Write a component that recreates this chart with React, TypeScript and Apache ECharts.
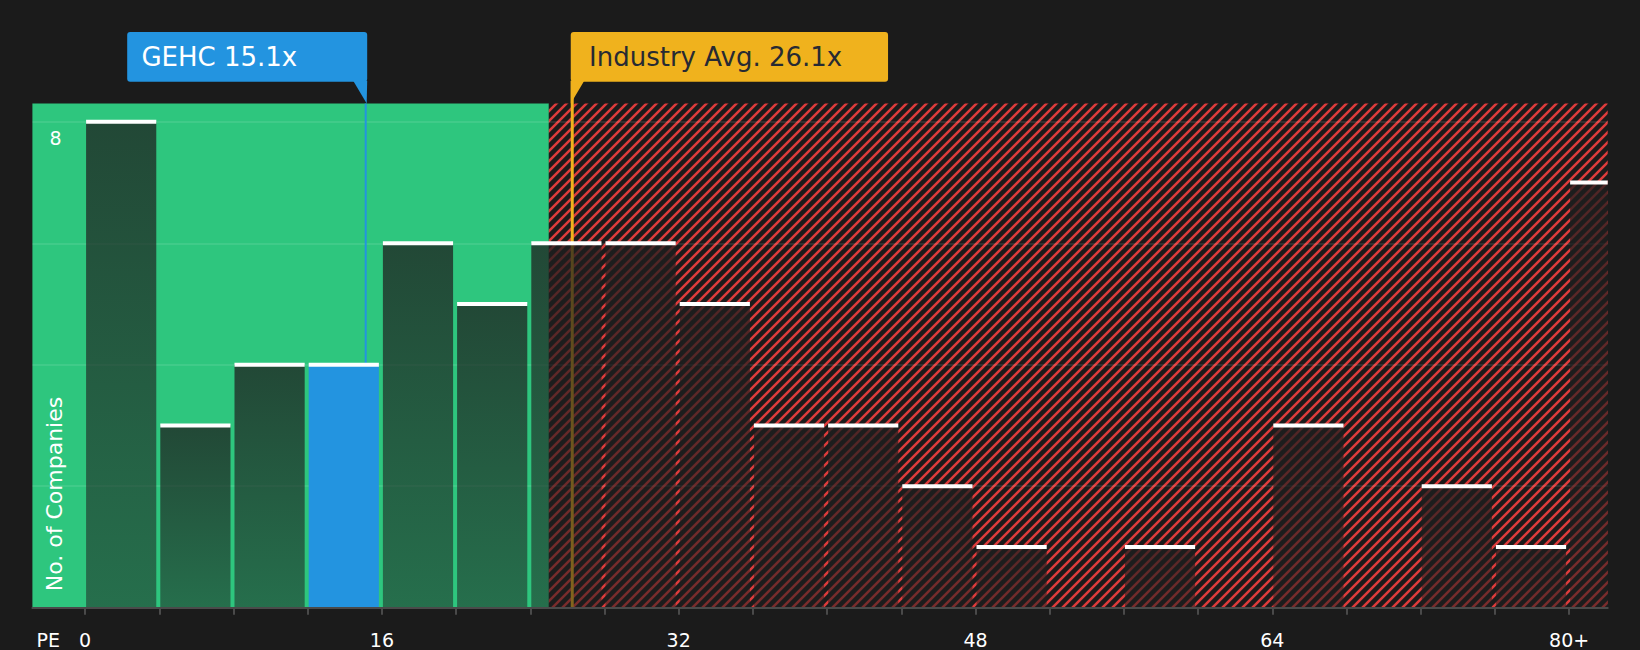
import React, { useEffect, useRef } from "react";
import * as echarts from "echarts";

// ---- data ----
const binStarts = [0, 4, 8, 12, 16, 20, 24, 28, 32, 36, 40, 44, 48, 52, 56, 60, 64, 68, 72, 76, 80];
const counts = [8, 3, 4, 4, 6, 5, 6, 6, 5, 3, 3, 2, 1, 0, 1, 0, 3, 0, 2, 1, 7];
const BIN_WIDTH = 4;
const companyPE = 15.1;
const industryPE = 26.1;
const companyLabel = "GEHC 15.1x";
const industryLabel = "Industry Avg. 26.1x";
const fairLimit = 25;
const xTickValues = [0, 4, 8, 12, 16, 20, 24, 28, 32, 36, 40, 44, 48, 52, 56, 60, 64, 68, 72, 76, 80];
const xLabelValues = [0, 16, 32, 48, 64, 80];
const yLabelValues = [8];
const X_MIN = -2.84;
const X_MAX = 82.08;
const Y_MAX = 8.3;

const FONT = "DejaVu Sans";
const GREEN = "#2ec67e";
const BLUE = "#2394e0";
const YELLOW = "#f0b21d";
const BG = "#1b1b1b";

function makeHatch(): string {
  const s = 10;
  const c = document.createElement("canvas");
  c.width = s;
  c.height = s;
  const ctx = c.getContext("2d")!;
  ctx.fillStyle = BG;
  ctx.fillRect(0, 0, s, s);
  ctx.strokeStyle = "#de3c3c";
  ctx.lineWidth = 2.5;
  ctx.beginPath();
  ctx.moveTo(-1, s + 1);
  ctx.lineTo(s + 1, -1);
  ctx.moveTo(-1, 1);
  ctx.lineTo(1, -1);
  ctx.moveTo(s - 1, s + 1);
  ctx.lineTo(s + 1, s - 1);
  ctx.stroke();
  return c.toDataURL();
}

export default function App() {
  const ref = useRef<HTMLDivElement>(null);

  useEffect(() => {
    if (!ref.current) return;
    const chart = echarts.init(ref.current, null, { renderer: "svg" });
    const hatch = { image: makeHatch(), repeat: "repeat", imageWidth: 10, imageHeight: 10 };
    const barGradient = new echarts.graphic.LinearGradient(0, 0, 0, 1, [
      { offset: 0, color: "rgba(30,30,30,0.75)" },
      { offset: 1, color: "rgba(30,30,30,0.52)" },
    ]);

    const barData = binStarts.map((s, i) => [s, counts[i]]);
    const markerData = [
      [companyPE, 0],
      [industryPE, 1],
    ];

    const option: any = {
      animation: false,
      backgroundColor: BG,
      textStyle: { fontFamily: FONT },
      grid: {
        left: 32.4,
        right: 32.3,
        top: 103.6,
        bottom: 42.3,
        containLabel: false,
        outerBoundsMode: "none",
      },
      xAxis: {
        type: "value",
        min: X_MIN,
        max: X_MAX,
        z: 3,
        axisLine: { show: true, lineStyle: { color: "#4a4a4a", width: 2 } },
        axisTick: {
          show: true,
          customValues: xTickValues,
          length: 7,
          lineStyle: { color: "#4a4a4a", width: 2 },
        },
        axisLabel: {
          show: true,
          customValues: xLabelValues,
          formatter: (v: number) => (v === 80 ? "80+" : String(v)),
          color: "#ffffff",
          fontSize: 19,
          fontFamily: FONT,
          margin: 23,
        },
        splitLine: { show: false },
      },
      yAxis: {
        type: "value",
        min: 0,
        max: Y_MAX,
        interval: 2,
        z: 1,
        axisLine: { show: false },
        axisTick: { show: false },
        axisLabel: {
          inside: true,
          margin: 17,
          color: "#ffffff",
          fontSize: 19,
          fontFamily: FONT,
          verticalAlign: "top",
          padding: [7, 0, 0, 0],
          formatter: (v: number) => (yLabelValues.indexOf(v) >= 0 ? String(v) : ""),
        },
        splitLine: {
          show: true,
          showMinLine: false,
          showMaxLine: false,
          lineStyle: { color: "rgba(255,255,255,0.12)", width: 1.5 },
        },
      },
      graphic: [
        {
          type: "text",
          z: 10,
          x: 36.5,
          y: 640,
          style: {
            text: "PE",
            fill: "#ffffff",
            font: `19px '${FONT}'`,
            lineHeight: 18,
            align: "left",
            verticalAlign: "middle",
          },
        },
        {
          type: "text",
          z: 10,
          x: 54.7,
          y: 494,
          rotation: Math.PI / 2,
          style: {
            text: "No. of Companies",
            fill: "#ffffff",
            font: `22px '${FONT}'`,
            align: "center",
            verticalAlign: "middle",
          },
        },
      ],
      series: [
        {
          name: "zones",
          type: "custom",
          z: 0,
          silent: true,
          data: [[fairLimit, 0]],
          encode: { x: 0, y: 1 },
          renderItem: (params: any, api: any) => {
            const cs = params.coordSys;
            const bx = api.coord([api.value(0), 0])[0];
            return {
              type: "group",
              children: [
                {
                  type: "rect",
                  shape: { x: cs.x, y: cs.y, width: bx - cs.x, height: cs.height },
                  style: { fill: GREEN },
                },
                {
                  type: "rect",
                  shape: { x: bx, y: cs.y, width: cs.x + cs.width - bx, height: cs.height },
                  style: { fill: hatch },
                },
              ],
            };
          },
        },
        {
          name: "markers",
          type: "custom",
          z: 1,
          silent: true,
          data: markerData,
          encode: { x: 0, y: 1 },
          renderItem: (params: any, api: any) => {
            const cs = params.coordSys;
            const top = cs.y;
            const bottom = cs.y + cs.height;
            const boxTop = 32;
            const boxH = 49.7;
            const boxBottom = boxTop + boxH;
            if (api.value(1) === 0) {
              const x = api.coord([api.value(0), 0])[0] + 0.5;
              const right = x + 1.5;
              const w = 240;
              return {
                type: "group",
                children: [
                  {
                    type: "rect",
                    shape: { x: x - 1, y: top, width: 2, height: bottom - top },
                    style: { fill: BLUE },
                  },
                  {
                    type: "polygon",
                    shape: { points: [[right - 14, boxBottom - 1], [right, boxBottom - 1], [right - 0.5, top]] },
                    style: { fill: BLUE },
                  },
                  {
                    type: "rect",
                    shape: { x: right - w, y: boxTop, width: w, height: boxH, r: 3 },
                    style: { fill: BLUE },
                  },
                  {
                    type: "text",
                    x: right - w + 14.2,
                    y: boxTop + boxH / 2,
                    style: {
                      text: companyLabel,
                      fill: "#ffffff",
                      font: `26px '${FONT}'`,
                      align: "left",
                      verticalAlign: "middle",
                    },
                  },
                ],
              };
            }
            const x = api.coord([api.value(0), 0])[0] + 3;
            const left = x - 1.5;
            const w = 317.3;
            return {
              type: "group",
              children: [
                {
                  type: "rect",
                  shape: { x: x - 1.5, y: boxBottom - 1, width: 3, height: bottom - boxBottom + 1 },
                  style: { fill: YELLOW },
                },
                {
                  type: "polygon",
                  shape: { points: [[left, boxBottom - 1], [left + 13.5, boxBottom - 1], [left, top]] },
                  style: { fill: YELLOW },
                },
                {
                  type: "rect",
                  shape: { x: left, y: boxTop, width: w, height: boxH, r: 3 },
                  style: { fill: YELLOW },
                },
                {
                  type: "text",
                  x: left + 18.3,
                  y: boxTop + boxH / 2,
                  style: {
                    text: industryLabel,
                    fill: "#272a33",
                    font: `26px '${FONT}'`,
                    align: "left",
                    verticalAlign: "middle",
                  },
                },
              ],
            };
          },
        },
        {
          name: "bars",
          type: "custom",
          z: 2,
          silent: true,
          data: barData,
          encode: { x: 0, y: 1 },
          renderItem: (params: any, api: any) => {
            const cs = params.coordSys;
            const start = api.value(0);
            const count = api.value(1);
            if (!count) return { type: "group", children: [] };
            const p0 = api.coord([start, count]);
            const p1 = api.coord([start + BIN_WIDTH, 0]);
            const x = p0[0] + 1;
            const xr = Math.min(p1[0] - 3, cs.x + cs.width);
            const w = xr - x;
            const yTop = p0[1];
            const h = p1[1] - yTop;
            const isCompany = companyPE >= start && companyPE < start + BIN_WIDTH;
            return {
              type: "group",
              children: [
                {
                  type: "rect",
                  shape: { x, y: yTop, width: w, height: h },
                  style: { fill: isCompany ? BLUE : barGradient },
                },
                {
                  type: "rect",
                  shape: { x, y: yTop - 2, width: w, height: 4 },
                  style: { fill: "#ffffff" },
                },
              ],
            };
          },
        },
      ],
    };

    chart.setOption(option);
    return () => chart.dispose();
  }, []);

  return (
    <div
      ref={ref}
      style={{ position: "fixed", left: 0, top: 0, width: 1640, height: 650, background: BG }}
    />
  );
}
